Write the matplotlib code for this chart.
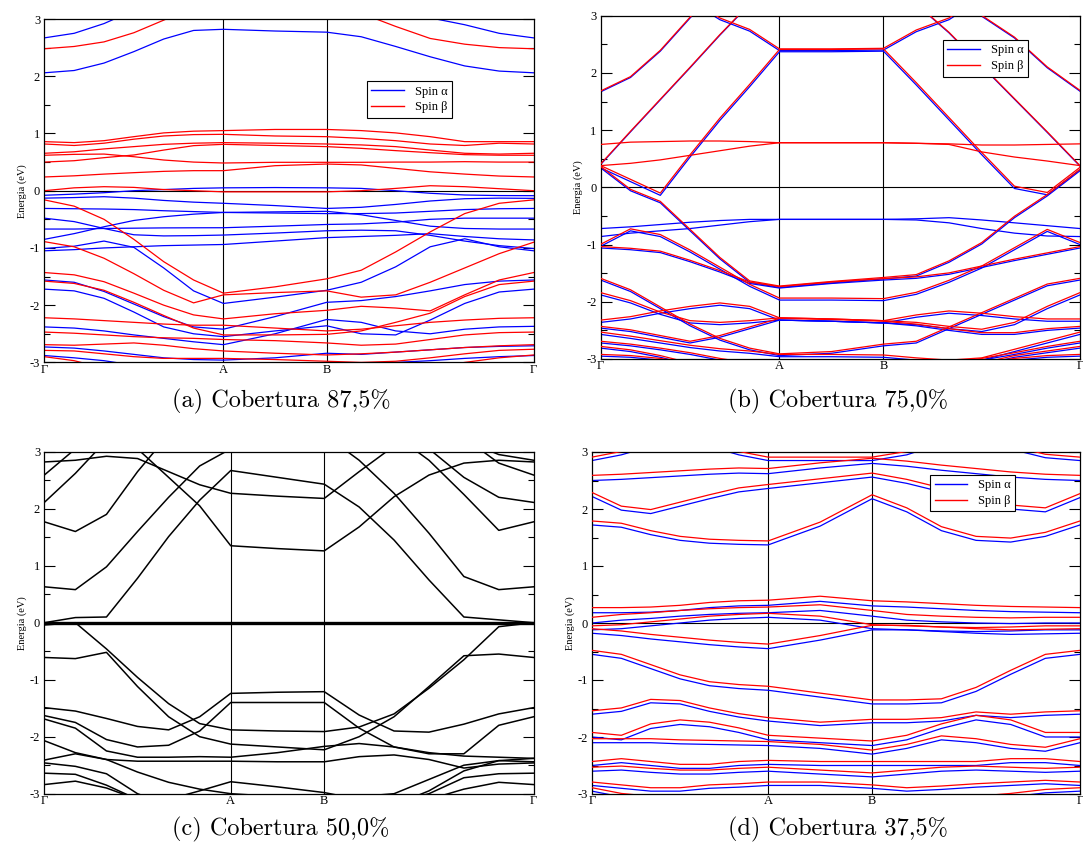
import numpy as np
import matplotlib
matplotlib.use("Agg")
import matplotlib.pyplot as plt
from matplotlib.ticker import MultipleLocator
from matplotlib.lines import Line2D

plt.rcParams["font.family"] = ["Liberation Serif", "DejaVu Serif"]
plt.rcParams["axes.unicode_minus"] = False

# ── k-path: Γ→A (7 samples), middle of A-B, B→Γ (7 samples) ──────────
KLABELS = ["Γ", "A", "B", "Γ"]
KPOS_A = (0.366, 0.577)
KPOS_B = (0.373, 0.590)
KPOS_C = (0.381, 0.572)
KPOS_D = (0.361, 0.574)

CAPTIONS = ["(a) Cobertura 87,5%", "(b) Cobertura 75,0%",
            "(c) Cobertura 50,0%", "(d) Cobertura 37,5%"]

# ── (a) 87,5 % ────────────────────────────────────────────────
A_ALPHA = [
    [2.67, 2.75, 2.92, 3.15, 3.30, 3.40, 3.40, 3.40, 3.40, 3.30, 3.15, 3.02, 2.90, 2.75, 2.67],
    [2.06, 2.10, 2.23, 2.43, 2.65, 2.80, 2.82, 2.79, 2.77, 2.69, 2.52, 2.34, 2.18, 2.09, 2.06],
    [-0.08, -0.06, -0.035, 0.0, 0.02, 0.04, 0.05, 0.055, 0.05, 0.04, 0.0, -0.045, -0.075, -0.085, -0.087],
    [-0.13, -0.12, -0.105, -0.13, -0.17, -0.20, -0.22, -0.26, -0.31, -0.29, -0.24, -0.18, -0.14, -0.13, -0.134],
    [-0.31, -0.315, -0.32, -0.33, -0.35, -0.365, -0.38, -0.39, -0.40, -0.40, -0.39, -0.36, -0.33, -0.315, -0.31],
    [-0.48, -0.54, -0.66, -0.77, -0.79, -0.785, -0.775, -0.74, -0.70, -0.69, -0.70, -0.78, -0.88, -0.96, -1.01],
    [-0.67, -0.67, -0.66, -0.655, -0.65, -0.648, -0.647, -0.62, -0.59, -0.58, -0.55, -0.50, -0.48, -0.48, -0.48],
    [-0.85, -0.75, -0.63, -0.52, -0.455, -0.41, -0.38, -0.37, -0.36, -0.42, -0.52, -0.62, -0.66, -0.67, -0.67],
    [-1.05, -1.03, -1.00, -0.98, -0.96, -0.95, -0.94, -0.88, -0.82, -0.80, -0.78, -0.75, -0.80, -0.84, -0.86],
    [-1.01, -0.97, -0.88, -0.99, -1.35, -1.75, -1.97, -1.86, -1.74, -1.60, -1.33, -0.98, -0.84, -0.98, -1.05],
    [-1.56, -1.60, -1.76, -1.98, -2.20, -2.38, -2.42, -2.20, -1.95, -1.92, -1.85, -1.75, -1.64, -1.58, -1.56],
    [-1.72, -1.75, -1.88, -2.12, -2.38, -2.50, -2.55, -2.45, -2.36, -2.50, -2.52, -2.26, -1.97, -1.77, -1.72],
    [-2.38, -2.40, -2.45, -2.52, -2.58, -2.64, -2.69, -2.50, -2.25, -2.30, -2.45, -2.50, -2.42, -2.38, -2.37],
    [-2.73, -2.75, -2.80, -2.86, -2.92, -2.95, -2.96, -2.92, -2.84, -2.86, -2.82, -2.78, -2.74, -2.72, -2.71],
    [-2.88, -2.92, -2.97, -3.05, -3.10, -3.10, -3.10, -3.10, -3.10, -3.05, -3.00, -2.97, -2.93, -2.90, -2.88],
]
A_BETA = [
    [2.48, 2.52, 2.60, 2.76, 2.98, 3.20, 3.30, 3.30, 3.30, 3.10, 2.87, 2.66, 2.56, 2.50, 2.48],
    [0.857, 0.84, 0.874, 0.944, 1.01, 1.04, 1.05, 1.07, 1.07, 1.05, 1.01, 0.944, 0.857, 0.857, 0.857],
    [0.816, 0.79, 0.83, 0.90, 0.956, 0.98, 0.985, 0.956, 0.944, 0.915, 0.874, 0.816, 0.79, 0.83, 0.816],
    [0.654, 0.68, 0.73, 0.77, 0.81, 0.83, 0.84, 0.83, 0.816, 0.80, 0.77, 0.71, 0.654, 0.64, 0.654],
    [0.619, 0.635, 0.64, 0.594, 0.536, 0.50, 0.484, 0.496, 0.496, 0.496, 0.50, 0.50, 0.507, 0.50, 0.50],
    [0.50, 0.524, 0.577, 0.624, 0.71, 0.787, 0.81, 0.79, 0.77, 0.74, 0.70, 0.664, 0.63, 0.62, 0.619],
    [0.24, 0.26, 0.29, 0.315, 0.338, 0.35, 0.35, 0.437, 0.466, 0.45, 0.39, 0.33, 0.29, 0.256, 0.24],
    [0.0, 0.05, 0.07, 0.058, 0.02, 0.0, -0.02, -0.02, -0.02, 0.0, 0.04, 0.087, 0.07, 0.035, 0.0],
    [-0.16, -0.27, -0.50, -0.85, -1.24, -1.56, -1.79, -1.68, -1.54, -1.39, -1.07, -0.72, -0.40, -0.22, -0.16],
    [-0.89, -0.98, -1.18, -1.45, -1.74, -1.96, -1.82, -1.78, -1.75, -1.86, -1.82, -1.60, -1.35, -1.10, -0.90],
    [-1.43, -1.47, -1.59, -1.79, -2.00, -2.17, -2.24, -2.15, -2.09, -2.02, -2.05, -2.10, -1.82, -1.56, -1.43],
    [-1.58, -1.62, -1.74, -1.95, -2.18, -2.40, -2.52, -2.52, -2.51, -2.45, -2.30, -2.14, -1.85, -1.64, -1.58],
    [-2.22, -2.24, -2.27, -2.30, -2.33, -2.35, -2.35, -2.40, -2.45, -2.42, -2.36, -2.30, -2.26, -2.23, -2.22],
    [-2.47, -2.49, -2.52, -2.55, -2.57, -2.58, -2.60, -2.62, -2.66, -2.70, -2.68, -2.60, -2.52, -2.48, -2.47],
    [-2.69, -2.70, -2.68, -2.66, -2.70, -2.76, -2.80, -2.84, -2.87, -2.85, -2.82, -2.78, -2.74, -2.71, -2.69],
    [-2.79, -2.80, -2.85, -2.90, -2.93, -2.93, -2.93, -2.95, -2.98, -3.00, -2.98, -2.92, -2.85, -2.79, -2.77],
    [-2.90, -2.97, -3.10, -3.20, -3.20, -3.20, -3.20, -3.20, -3.20, -3.20, -3.20, -3.10, -3.00, -2.92, -2.87],
]

# ── (b) 75,0 % : bands present in both spins (α values + β offset) ──
B_PAIR_ALPHA = [
    [1.67, 1.92, 2.38, 2.96, 3.50, 3.80, 3.80, 3.80, 3.80, 3.80, 3.50, 2.99, 2.61, 2.09, 1.68],
    [0.40, 0.97, 1.53, 2.09, 2.66, 3.20, 3.50, 3.60, 3.50, 3.20, 2.70, 2.12, 1.54, 0.96, 0.37],
    [3.60, 3.50, 3.40, 3.25, 2.93, 2.73, 2.39, 2.39, 2.40, 2.72, 2.93, 3.30, 3.50, 3.60, 3.60],
    [0.34, 0.10, -0.14, 0.53, 1.17, 1.76, 2.37, 2.37, 2.38, 1.79, 1.18, 0.57, -0.02, -0.13, 0.31],
    [0.34, -0.06, -0.27, -0.76, -1.25, -1.66, -1.75, -1.67, -1.60, -1.55, -1.31, -0.99, -0.53, -0.15, 0.29],
    [-1.03, -0.76, -0.86, -1.13, -1.43, -1.73, -1.97, -1.97, -1.98, -1.87, -1.66, -1.41, -1.09, -0.77, -1.00],
    [-1.06, -1.09, -1.14, -1.30, -1.48, -1.68, -1.76, -1.68, -1.62, -1.59, -1.52, -1.40, -1.28, -1.17, -1.06],
    [-1.62, -1.82, -2.12, -2.42, -2.67, -2.84, -2.94, -2.90, -2.77, -2.72, -2.47, -2.22, -1.97, -1.72, -1.62],
    [-1.88, -2.02, -2.22, -2.37, -2.40, -2.37, -2.32, -2.34, -2.37, -2.40, -2.47, -2.52, -2.40, -2.12, -1.88],
    [-2.36, -2.30, -2.20, -2.12, -2.06, -2.12, -2.32, -2.34, -2.37, -2.27, -2.20, -2.24, -2.30, -2.34, -2.34],
    [-2.46, -2.52, -2.62, -2.72, -2.62, -2.47, -2.32, -2.34, -2.37, -2.42, -2.50, -2.57, -2.57, -2.50, -2.46],
    [-2.57, -2.64, -2.72, -2.80, -2.86, -2.90, -2.96, -2.96, -2.97, -3.02, -3.06, -3.02, -2.87, -2.72, -2.57],
    [-2.72, -2.77, -2.84, -2.92, -3.02, -3.10, -3.10, -3.10, -3.10, -3.10, -3.10, -3.02, -2.92, -2.81, -2.72],
    [-2.81, -2.87, -2.97, -3.10, -3.20, -3.20, -3.20, -3.20, -3.20, -3.20, -3.20, -3.10, -2.97, -2.89, -2.81],
    [-2.95, -2.97, -3.02, -3.10, -3.20, -3.20, -3.20, -3.20, -3.20, -3.20, -3.20, -3.10, -3.02, -2.97, -2.95],
]
B_PAIR_SPLIT = [0.015, 0.01, 0.03, 0.04, 0.025, 0.035, 0.025, 0.03, 0.04, 0.04, 0.03, 0.04, 0.03, 0.03, 0.03]
B_ALPHA_ONLY = [
    [-0.72, -0.69, -0.65, -0.61, -0.58, -0.56, -0.56, -0.56, -0.56, -0.55, -0.53, -0.57, -0.62, -0.67, -0.72],
    [-0.86, -0.80, -0.76, -0.72, -0.66, -0.60, -0.56, -0.56, -0.56, -0.57, -0.62, -0.72, -0.80, -0.85, -0.86],
]
B_BETA_ONLY = [
    [0.75, 0.79, 0.80, 0.81, 0.81, 0.80, 0.78, 0.78, 0.78, 0.77, 0.76, 0.74, 0.74, 0.75, 0.76],
    [0.38, 0.42, 0.48, 0.56, 0.64, 0.72, 0.78, 0.78, 0.78, 0.77, 0.75, 0.62, 0.53, 0.46, 0.38],
]

# ── (c) 50,0 % : non spin-polarised ─────────────────────────────
C_BANDS = [
    [2.82, 2.85, 2.92, 2.88, 2.65, 2.42, 2.27, 2.22, 2.18, 2.65, 3.10, 3.40, 3.20, 2.95, 2.85],
    [0.00, 0.09, 0.10, 0.78, 1.51, 2.15, 2.67, 2.55, 2.43, 2.03, 1.45, 0.75, 0.10, 0.05, 0.00],
    [3.50, 3.50, 3.40, 3.05, 2.55, 2.05, 1.35, 1.30, 1.26, 1.68, 2.21, 2.59, 2.80, 2.85, 2.82],
    [0.63, 0.58, 0.98, 1.60, 2.20, 2.75, 3.05, 3.30, 3.30, 2.85, 2.27, 1.57, 0.81, 0.58, 0.63],
    [1.77, 1.60, 1.90, 2.65, 3.30, 3.60, 3.70, 3.70, 3.70, 3.60, 3.30, 2.85, 2.25, 1.62, 1.77],
    [2.11, 2.62, 3.20, 3.60, 3.80, 3.80, 3.80, 3.80, 3.80, 3.80, 3.60, 3.05, 2.55, 2.20, 2.11],
    [2.59, 3.05, 3.60, 3.80, 3.80, 3.80, 3.80, 3.80, 3.80, 3.80, 3.80, 3.60, 3.25, 2.80, 2.59],
    [-0.04, 0.00, -0.46, -0.96, -1.42, -1.77, -1.88, -1.90, -1.91, -1.83, -1.60, -1.15, -0.65, -0.07, 0.00],
    [-0.61, -0.63, -0.52, -1.12, -1.65, -2.00, -2.13, -2.18, -2.23, -2.00, -1.65, -1.12, -0.58, -0.55, -0.61],
    [-1.49, -1.55, -1.68, -1.82, -1.88, -1.65, -1.24, -1.22, -1.21, -1.62, -1.90, -1.92, -1.78, -1.60, -1.49],
    [-1.63, -1.75, -2.05, -2.18, -2.15, -1.90, -1.40, -1.40, -1.40, -1.85, -2.18, -2.30, -2.30, -1.80, -1.65],
    [-1.69, -1.85, -2.25, -2.36, -2.36, -2.35, -2.36, -2.28, -2.17, -2.12, -2.18, -2.28, -2.34, -2.36, -2.38],
    [-2.07, -2.28, -2.40, -2.43, -2.43, -2.43, -2.43, -2.44, -2.44, -2.35, -2.32, -2.40, -2.55, -2.48, -2.46],
    [-2.41, -2.30, -2.40, -2.62, -2.80, -2.92, -3.00, -3.05, -3.05, -3.05, -3.00, -2.75, -2.50, -2.42, -2.44],
    [-2.84, -2.78, -2.90, -3.10, -3.10, -2.95, -2.79, -2.88, -2.98, -3.10, -3.10, -3.10, -2.92, -2.80, -2.84],
    [-2.64, -2.66, -2.85, -3.10, -3.20, -3.20, -3.20, -3.20, -3.20, -3.20, -3.15, -3.00, -2.72, -2.65, -2.64],
    [-2.46, -2.52, -2.65, -3.00, -3.20, -3.20, -3.20, -3.20, -3.20, -3.20, -3.20, -2.95, -2.60, -2.42, -2.38],
]

# ── (d) 37,5 % : α values + β offset ─────────────────────────────
D_ALPHA = [
    [2.85, 2.95, 3.10, 3.20, 3.10, 2.95, 2.85, 2.85, 2.85, 2.95, 3.15, 3.20, 3.05, 2.90, 2.85],
    [2.50, 2.52, 2.55, 2.58, 2.61, 2.63, 2.62, 2.72, 2.80, 2.75, 2.68, 2.62, 2.56, 2.52, 2.50],
    [2.22, 1.98, 1.92, 2.05, 2.18, 2.30, 2.36, 2.46, 2.56, 2.45, 2.30, 2.15, 2.00, 1.95, 2.20],
    [1.72, 1.68, 1.55, 1.45, 1.40, 1.38, 1.37, 1.70, 2.18, 1.95, 1.62, 1.45, 1.42, 1.52, 1.72],
    [0.18, 0.18, 0.19, 0.22, 0.27, 0.30, 0.31, 0.38, 0.30, 0.28, 0.25, 0.22, 0.20, 0.19, 0.18],
    [0.00, 0.05, 0.08, 0.12, 0.15, 0.17, 0.18, 0.22, 0.12, 0.05, 0.02, 0.00, -0.01, 0.00, 0.00],
    [-0.12, -0.10, -0.05, 0.00, 0.05, 0.08, 0.10, 0.05, -0.10, -0.12, -0.14, -0.15, -0.14, -0.12, -0.12],
    [-0.18, -0.22, -0.28, -0.33, -0.38, -0.42, -0.45, -0.30, -0.12, -0.12, -0.15, -0.18, -0.20, -0.19, -0.18],
    [-0.55, -0.62, -0.80, -0.98, -1.10, -1.15, -1.18, -1.30, -1.42, -1.42, -1.40, -1.20, -0.90, -0.62, -0.55],
    [-1.60, -1.55, -1.40, -1.42, -1.55, -1.65, -1.72, -1.80, -1.75, -1.75, -1.72, -1.62, -1.66, -1.62, -1.60],
    [-2.00, -2.05, -1.85, -1.78, -1.82, -1.92, -2.05, -2.10, -2.15, -2.05, -1.85, -1.70, -1.78, -2.00, -2.00],
    [-2.10, -2.10, -2.10, -2.12, -2.13, -2.14, -2.15, -2.20, -2.30, -2.20, -2.05, -2.10, -2.20, -2.25, -2.10],
    [-2.50, -2.45, -2.50, -2.55, -2.55, -2.50, -2.48, -2.50, -2.50, -2.50, -2.50, -2.50, -2.45, -2.45, -2.50],
    [-2.60, -2.58, -2.62, -2.65, -2.65, -2.62, -2.60, -2.65, -2.70, -2.65, -2.60, -2.58, -2.60, -2.62, -2.60],
    [-2.85, -2.90, -2.95, -2.95, -2.90, -2.88, -2.85, -2.85, -2.90, -2.95, -2.92, -2.88, -2.85, -2.82, -2.85],
    [-2.95, -3.05, -3.10, -3.20, -3.20, -3.20, -3.20, -3.20, -3.20, -3.20, -3.20, -3.10, -3.05, -2.98, -2.95],
]
D_SPLIT = [0.06, 0.09, 0.07, 0.07, 0.09, 0.10, 0.07, 0.08, 0.07, 0.06, 0.08, 0.07, 0.07, 0.07, 0.06, 0.06]

BLUE, RED = "#0000ff", "#ff0000"
LW = 0.9


def kgrid(pos):
    a, b = pos
    return np.concatenate([np.linspace(0, a, 7), [(a + b) / 2], np.linspace(b, 1, 7)])


def frame(ax, pos, zero_lw=0.8):
    a, b = pos
    ax.set_xlim(0, 1)
    ax.set_ylim(-3, 3)
    ax.set_xticks([0, a, b, 1])
    ax.set_xticklabels(KLABELS)
    ax.tick_params(axis="x", length=0, pad=1, labelsize=9)
    ax.yaxis.set_major_locator(MultipleLocator(1))
    ax.yaxis.set_minor_locator(MultipleLocator(0.5))
    ax.tick_params(axis="y", which="both", direction="in", left=True, right=True, labelsize=9, pad=3)
    ax.tick_params(axis="y", which="major", length=8, width=0.8)
    ax.tick_params(axis="y", which="minor", length=4, width=0.8)
    for x in (a, b):
        ax.axvline(x, color="black", lw=0.8, zorder=1)
    ax.axhline(0, color="black", lw=zero_lw, zorder=1)
    ax.set_ylabel("Energia (eV)", fontsize=7.5, labelpad=2)
    for sp in ax.spines.values():
        sp.set_linewidth(0.9)


def spin_legend(ax, anchor):
    h = [Line2D([], [], color=BLUE, lw=1), Line2D([], [], color=RED, lw=1)]
    leg = ax.legend(h, ["Spin α", "Spin β"], loc="upper left", bbox_to_anchor=anchor,
                    fontsize=9, fancybox=False, edgecolor="black", framealpha=1,
                    borderpad=0.35, handlelength=2.6, handletextpad=0.9, labelspacing=0.3,
                    borderaxespad=0)
    leg.get_frame().set_linewidth(0.8)


fig = plt.figure(figsize=(10.83, 8.44), dpi=100)
W, H = 1083, 844


def add_ax(left, top, right, bottom):
    return fig.add_axes([left / W, 1 - bottom / H, (right - left) / W, (bottom - top) / H])


# (a)
ax = add_ax(44.3, 19, 533.7, 362.4)
frame(ax, KPOS_A)
k = kgrid(KPOS_A)
for band in A_ALPHA:
    ax.plot(k, band, color=BLUE, lw=LW, zorder=2)
for band in A_BETA:
    ax.plot(k, band, color=RED, lw=LW, zorder=2)
spin_legend(ax, (0.659, 0.819))

# (b)
ax = add_ax(600.7, 15.7, 1080, 359)
frame(ax, KPOS_B)
k = kgrid(KPOS_B)
for band in B_PAIR_ALPHA:
    ax.plot(k, band, color=BLUE, lw=LW, zorder=2)
for band in B_ALPHA_ONLY:
    ax.plot(k, band, color=BLUE, lw=LW, zorder=2)
for band, s in zip(B_PAIR_ALPHA, B_PAIR_SPLIT):
    ax.plot(k, np.array(band) + s, color=RED, lw=LW, zorder=3)
for band in B_BETA_ONLY:
    ax.plot(k, band, color=RED, lw=LW, zorder=3)
spin_legend(ax, (0.714, 0.929))

# (c)
ax = add_ax(44.3, 451.7, 533.7, 793.7)
frame(ax, KPOS_C, zero_lw=2.4)
k = kgrid(KPOS_C)
for band in C_BANDS:
    ax.plot(k, band, color="black", lw=1.1, zorder=2)

# (d)
ax = add_ax(592, 452, 1080, 794)
frame(ax, KPOS_D)
k = kgrid(KPOS_D)
for band in D_ALPHA:
    ax.plot(k, band, color=BLUE, lw=LW, zorder=2)
for band, s in zip(D_ALPHA, D_SPLIT):
    ax.plot(k, np.array(band) + s, color=RED, lw=LW, zorder=3)
spin_legend(ax, (0.693, 0.933))

# captions
for (cx, cy), txt in zip([(281, 401), (838, 401), (281, 829), (838, 829)], CAPTIONS):
    fig.text(cx / W, 1 - cy / H, txt, ha="center", va="center", fontsize=17.5, family="cmr10")

fig.savefig("out.png", dpi=100)
